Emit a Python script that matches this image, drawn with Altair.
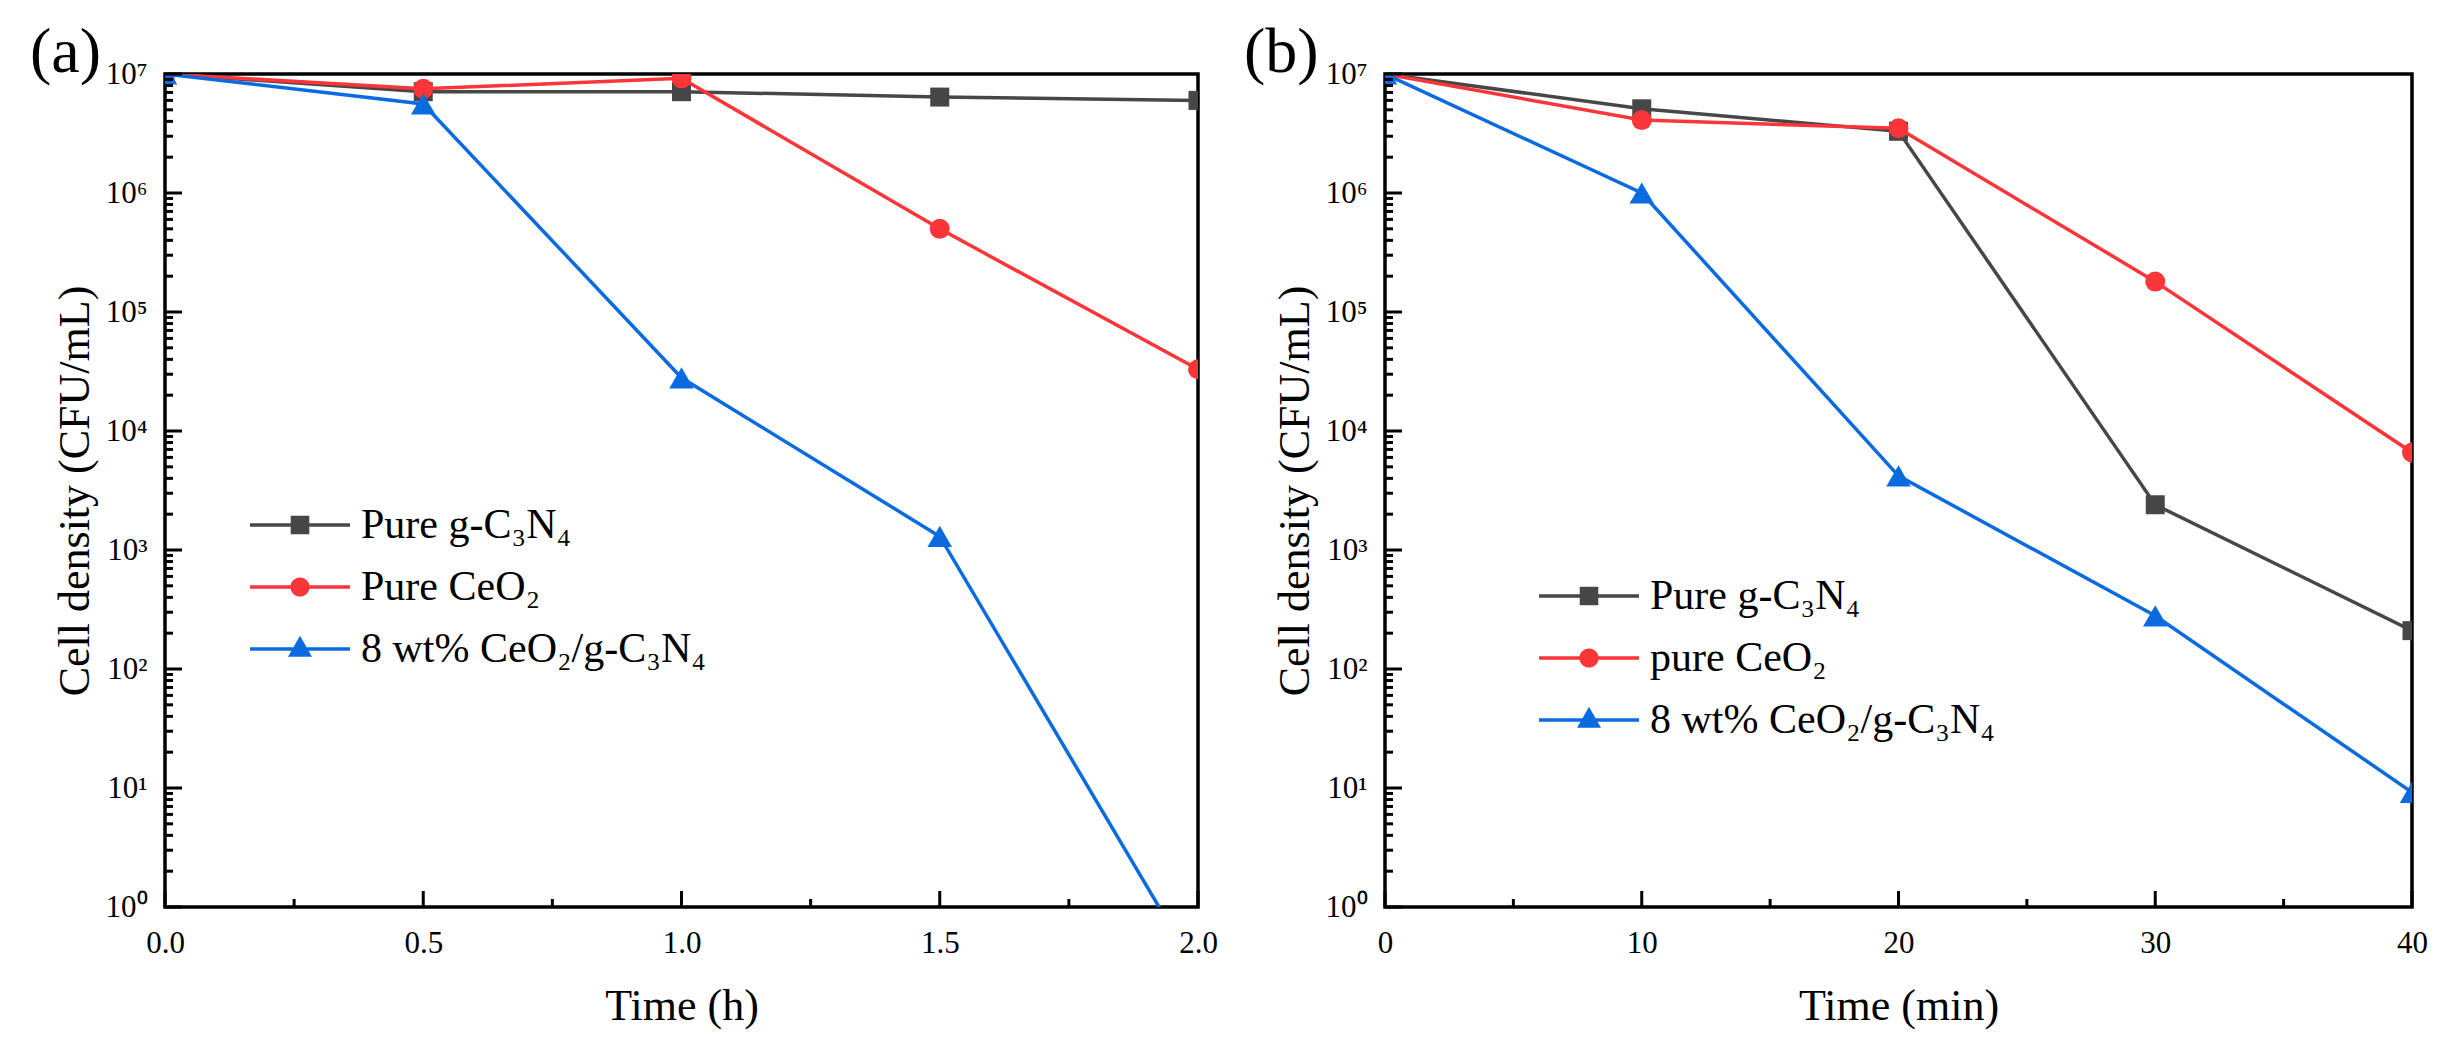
import json
import altair as alt
import pandas as pd

FONT = "Liberation Serif"
COLORS = ["#474747", "#fb3538", "#0a6be1"]
SHAPES = ["square", "circle", "triangle-up"]
SIZES = [361, 400, 600]

# ---------------- data ----------------
names_a = ["Pure g-C₃N₄", "Pure CeO₂", "8 wt% CeO₂/g-C₃N₄"]
names_b = ["Pure g-C₃N₄", "pure CeO₂", "8 wt% CeO₂/g-C₃N₄"]

time_a = [0.0, 0.5, 1.0, 1.5, 2.0]
gcn_a = [1.0e7, 7.1e6, 7.1e6, 6.4e6, 6.0e6]
ceo2_a = [1.0e7, 7.5e6, 9.2e6, 5.0e5, 3.3e4]
comp_a = [1.0e7, 5.6e6, 2.8e4, 1.3e3, 0.28]

time_b = [0, 10, 20, 30, 40]
gcn_b = [1.0e7, 5.1e6, 3.3e6, 2.4e3, 210]
ceo2_b = [1.0e7, 4.1e6, 3.5e6, 1.8e5, 6.6e3]
comp_b = [1.0e7, 1.0e6, 4.2e3, 280, 9.2]

x_major_a = [0.0, 0.5, 1.0, 1.5, 2.0]
x_minor_a = [0.25, 0.75, 1.25, 1.75]
x_major_b = [0, 10, 20, 30, 40]
x_minor_b = [5, 15, 25, 35]
y_major = [1, 10, 100, 1e3, 1e4, 1e5, 1e6, 1e7]
y_minor = [m * 10 ** k for k in range(7) for m in range(2, 10)]
SUPS = ["⁰", "¹", "²", "³", "⁴", "⁵", "⁶", "⁷"]

# legend glyphs: line segment + marker (unit coords, scaled by sqrt(size)/2)
LINE = "M-2.5,-0.085H2.5V0.085H-2.5Z "
LEGEND_PATHS = [
    LINE + "M-0.465,-0.465H0.465V0.465H-0.465Z",
    LINE + "M0.48,0A0.48,0.48 0 1,1 -0.48,0A0.48,0.48 0 1,1 0.48,0Z",
    LINE + "M0,-0.665L0.6,0.385H-0.6Z",
]

H = 833
LABEL_SIZE = 31


def panel(label, times, series, names, x_domain, x_major, x_minor, x_title,
          x_format, width, legend_x, legend_y, title_dx):
    rows = []
    for n, vals in zip(names, series):
        for t, v in zip(times, vals):
            rows.append({"t": t, "v": v, "s": n})
    df = pd.DataFrame(rows)

    xs = alt.Scale(domain=x_domain, nice=False, zero=False)
    ys = alt.Scale(type="log", domain=[1, 1e7], nice=False)
    cs = alt.Scale(domain=names, range=COLORS)

    shape_sig = "%s[indexof(%s, datum.value)]" % (
        json.dumps(LEGEND_PATHS), json.dumps(names, ensure_ascii=False))

    legend = alt.Legend(
        title=None, orient="none", legendX=legend_x, legendY=legend_y,
        padding=0, labelFont=FONT, labelFontSize=42, labelColor="black",
        labelLimit=2000, labelOffset=40, rowPadding=20,
        symbolSize=1600, symbolStrokeWidth=0, symbolOpacity=1,
        symbolType=alt.ExprRef(expr=shape_sig),
    )

    x_axis = alt.Axis(
        title=x_title, values=x_major, format=x_format, ticks=False,
        domain=False, grid=False, labelFlush=False, labelFont=FONT,
        labelFontSize=LABEL_SIZE, labelColor="black", labelPadding=21,
        titleFont=FONT, titleFontSize=44, titleFontWeight="normal",
        titleColor="black", titleBaseline="alphabetic",
        titleX=width / 2, titleY=112,
    )
    y_axis = alt.Axis(
        title="Cell density (CFU/mL)", values=y_major, ticks=False,
        domain=False, grid=False, labelFont=FONT, labelFontSize=LABEL_SIZE,
        labelColor="black", labelPadding=18,
        labelExpr="'10' + %s[round(log(datum.value)/LN10)]" % json.dumps(SUPS, ensure_ascii=False),
        titleFont=FONT, titleFontSize=44, titleFontWeight="normal",
        titleColor="black", titleBaseline="alphabetic", titleAngle=270,
        titleX=-77, titleY=H / 2,
    )

    layers = []
    for i, n in enumerate(names):
        sel = alt.datum.s == n
        layers.append(
            alt.Chart(df).transform_filter(sel).mark_line(
                color=COLORS[i], strokeWidth=3.5, clip=True).encode(
                x=alt.X("t:Q", scale=xs, axis=x_axis),
                y=alt.Y("v:Q", scale=ys, axis=y_axis),
            )
        )
        layers.append(
            alt.Chart(df).transform_filter(sel).mark_point(
                filled=True, opacity=1, clip=True, strokeWidth=0,
                shape=SHAPES[i], size=SIZES[i]).encode(
                x=alt.X("t:Q", scale=xs, axis=x_axis),
                y=alt.Y("v:Q", scale=ys, axis=y_axis),
                color=alt.Color("s:N", scale=cs, legend=legend),
            )
        )

    layers += [
        alt.Chart(pd.DataFrame({"v": y_major})).mark_rule(
            color="black", strokeWidth=3).encode(
            y=alt.Y("v:Q", scale=ys, axis=y_axis), x=alt.value(0), x2=alt.value(17)),
        alt.Chart(pd.DataFrame({"v": y_minor})).mark_rule(
            color="black", strokeWidth=3).encode(
            y=alt.Y("v:Q", scale=ys, axis=y_axis), x=alt.value(0), x2=alt.value(8)),
        alt.Chart(pd.DataFrame({"t": x_major})).mark_rule(
            color="black", strokeWidth=3).encode(
            x=alt.X("t:Q", scale=xs, axis=x_axis), y=alt.value(H), y2=alt.value(H - 16)),
        alt.Chart(pd.DataFrame({"t": x_minor})).mark_rule(
            color="black", strokeWidth=3).encode(
            x=alt.X("t:Q", scale=xs, axis=x_axis), y=alt.value(H), y2=alt.value(H - 8)),
    ]

    return alt.layer(*layers).properties(
        width=width, height=H,
        title=alt.TitleParams(
            text=label, anchor="start", frame="group", font=FONT,
            fontSize=64, fontWeight="normal", color="black",
            baseline="alphabetic", dx=title_dx, dy=78, offset=0),
    )


pa = panel("(a)", time_a, [gcn_a, ceo2_a, comp_a], names_a, [0, 2],
           x_major_a, x_minor_a, "Time (h)", ".1f", 1033, 114, 430, -135)
pb = panel("(b)", time_b, [gcn_b, ceo2_b, comp_b], names_b, [0, 40],
           x_major_b, x_minor_b, "Time (min)", "d", 1027, 183, 501, -141)

label_cfg = {"labelFont": FONT, "labelFontSize": LABEL_SIZE, "labelColor": "black"}

chart = alt.hconcat(pa, pb, spacing=187, bounds="flush").resolve_scale(
    color="independent", x="independent", y="independent",
).resolve_legend(color="independent").configure(
    view={"stroke": "black", "strokeWidth": 3.5},
    axis=label_cfg, axisX=label_cfg, axisY=label_cfg,
    axisQuantitative=label_cfg,
    legend={"labelFont": FONT, "labelFontSize": 42, "labelColor": "black"},
    style={"guide-label": {"font": FONT, "fontSize": LABEL_SIZE, "fill": "black"}},
).properties(
    padding={"left": 20, "top": 11, "right": 5, "bottom": 5},
    background="white",
)

chart.save("out.html", embed_options={"renderer": "svg", "actions": False})
